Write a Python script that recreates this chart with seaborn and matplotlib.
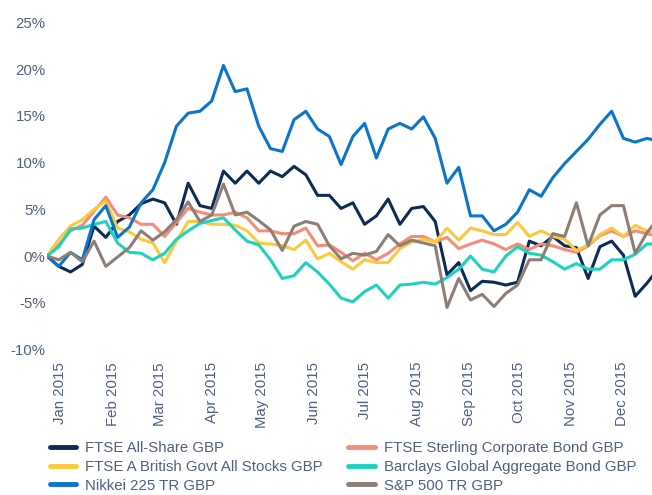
import numpy as np
import pandas as pd
import matplotlib
matplotlib.use("Agg")
import matplotlib.pyplot as plt
import matplotlib.dates as mdates
from matplotlib.ticker import FuncFormatter
import seaborn as sns

# weekly cumulative returns (%)
dates = pd.date_range("2014-12-24", periods=53, freq="7D")

all_share = [0, -1.1, -1.7, -0.9, 3.2, 2.0, 3.7, 4.4, 5.6, 6.1, 5.7, 3.4, 7.8,
             5.4, 5.1, 9.1, 7.8, 9.1, 7.8, 9.1, 8.5, 9.6, 8.7, 6.5, 6.5, 5.1,
             5.7, 3.4, 4.3, 6.1, 3.4, 5.1, 5.3, 3.7, -2.0, -0.7, -3.7, -2.7,
             -2.8, -3.1, -2.8, 1.6, 1.1, 2.1, 1.1, 0.9, -2.4, 1.0, 1.6, 0.1,
             -4.3, -2.9, -1.3]
corp_bond = [0, 1.2, 2.7, 3.3, 4.8, 6.3, 4.4, 4.1, 3.4, 3.4, 2.1, 3.6, 5.1,
             4.7, 4.4, 4.4, 4.7, 4.1, 2.7, 2.7, 2.4, 2.4, 3.0, 1.1, 1.2, 0.4,
             -0.5, 0.3, -0.4, 0.3, 1.3, 2.1, 2.1, 1.5, 2.0, 0.8, 1.3, 1.7, 1.3,
             0.7, 1.3, 0.7, 1.3, 1.1, 0.7, 0.4, 1.1, 2.2, 2.7, 2.1, 2.7, 2.4,
             2.1]
gilts = [0, 1.8, 3.2, 3.9, 5.0, 5.9, 3.0, 2.6, 1.8, 1.4, -0.7, 1.6, 3.7, 3.7,
         3.4, 3.4, 3.3, 2.7, 1.4, 1.3, 1.1, 0.7, 1.7, -0.3, 0.3, -0.6, -1.4,
         -0.4, -0.7, -0.7, 0.8, 1.5, 1.8, 1.5, 3.0, 1.7, 3.0, 2.7, 2.3, 2.3,
         3.6, 2.1, 2.7, 2.1, 1.8, 0.6, 1.2, 2.3, 3.0, 2.1, 3.3, 2.7, 2.3]
global_agg = [0, 1.0, 2.9, 3.0, 3.4, 3.7, 1.4, 0.4, 0.3, -0.4, 0.3, 1.8, 2.7,
              3.5, 3.8, 4.1, 2.8, 1.6, 1.2, -0.4, -2.4, -2.1, -0.7, -1.7, -3.0,
              -4.5, -4.9, -3.8, -3.1, -4.5, -3.1, -3.0, -2.8, -3.0, -2.3, -1.4,
              0.0, -1.4, -1.7, 0.0, 1.0, 0.3, 0.1, -0.6, -1.4, -0.8, -1.4,
              -1.4, -0.4, -0.4, 0.2, 1.3, 1.3]
nikkei = [0, -1.1, 0.4, -0.4, 3.9, 5.4, 2.0, 3.1, 5.7, 7.1, 10.0, 13.9, 15.3,
          15.5, 16.6, 20.4, 17.6, 17.9, 13.9, 11.5, 11.2, 14.6, 15.5, 13.6,
          12.8, 9.8, 12.8, 14.2, 10.5, 13.6, 14.2, 13.6, 14.9, 12.6, 7.8, 9.5,
          4.3, 4.3, 2.7, 3.4, 4.7, 7.1, 6.4, 8.4, 9.9, 11.2, 12.5, 14.1, 15.5,
          12.6, 12.2, 12.6, 12.3]
sp500 = [0, -0.4, 0.4, -0.6, 1.6, -1.1, -0.1, 0.9, 2.7, 1.7, 2.6, 3.9, 5.8,
         3.7, 4.4, 7.7, 4.4, 4.7, 3.8, 2.8, 0.6, 3.2, 3.7, 3.4, 1.1, -0.3, 0.3,
         0.1, 0.5, 2.3, 1.1, 1.7, 1.4, 1.1, -5.5, -2.4, -4.7, -4.1, -5.4, -4.0,
         -3.1, -0.4, -0.4, 2.4, 2.1, 5.7, 1.1, 4.4, 5.4, 5.4, 0.3, 2.5, 4.1]

series_names = ["FTSE All-Share GBP", "FTSE Sterling Corporate Bond GBP",
                "FTSE A British Govt All Stocks GBP",
                "Barclays Global Aggregate Bond GBP", "Nikkei 225 TR GBP",
                "S&P 500 TR GBP"]
series_values = [all_share, corp_bond, gilts, global_agg, nikkei, sp500]
colors = ["#0c2b55", "#f48c78", "#fdc93c", "#1bd3bf", "#0b74cd", "#8b7f76"]

df = pd.concat([pd.DataFrame({"date": dates, "value": v, "series": n})
                for n, v in zip(series_names, series_values)])

sns.set_style("white")
plt.rcParams["font.family"] = ["Liberation Sans", "DejaVu Sans"]
text_col = "#50617f"

fig = plt.figure(figsize=(6.52, 4.95), dpi=100)
ax = fig.add_axes([47 / 652, 1 - 349.5 / 495, 605 / 652, 327 / 495])

sns.lineplot(data=df, x="date", y="value", hue="series",
             palette=dict(zip(series_names, colors)), linewidth=2.2, ax=ax)

handles, labels = ax.get_legend_handles_labels()
ax.get_legend().remove()

ax.set_xlim(dates[0], dates[0] + pd.Timedelta(days=360))
ax.set_ylim(-10, 25)
ax.set_yticks(np.arange(-10, 30, 5))
ax.yaxis.set_major_formatter(FuncFormatter(lambda v, p: f"{v:.0f}%"))
ax.xaxis.set_major_locator(mdates.MonthLocator())
ax.xaxis.set_major_formatter(mdates.DateFormatter("%b %Y"))
ax.set_xlabel("")
ax.set_ylabel("")
ax.tick_params(axis="x", length=0, pad=9, labelsize=10.8, labelcolor=text_col,
               rotation=90)
ax.tick_params(axis="y", length=0, pad=1, labelsize=10.8, labelcolor=text_col)
sns.despine(ax=ax, left=True, bottom=True)

# legend columns: left = All-Share, Govt, Nikkei; right = Corp, Barclays, S&P
order = [0, 2, 4, 1, 3, 5]
hmap = dict(zip(labels, handles))
leg_h = []
for i in order:
    h = hmap[series_names[i]]
    leg_h.append(plt.Line2D([], [], color=h.get_color(), linewidth=3.5))
leg = fig.legend(leg_h, [series_names[i] for i in order], ncol=2,
                 loc="upper left", bbox_to_anchor=(50 / 652, 1 - 441 / 495),
                 frameon=False, fontsize=10.8, handlelength=1.75,
                 handletextpad=0.6, columnspacing=1.7, labelspacing=0.32,
                 borderpad=0, borderaxespad=0)
for t in leg.get_texts():
    t.set_color(text_col)

fig.savefig("out.png", dpi=100)
